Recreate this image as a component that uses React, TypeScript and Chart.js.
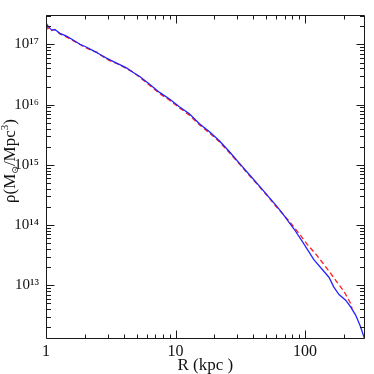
import React, { useEffect, useRef } from "react";
import { Chart, registerables } from "chart.js";

Chart.register(...registerables);

// Blue (solid) profile: radius in kpc, density in Msun/Mpc^3
const rBlue = [
  1.0, 1.04, 1.106, 1.173, 1.28, 1.44, 1.62, 1.83, 2.06, 2.31, 2.6, 2.93, 3.29, 3.71, 4.18, 4.69, 5.29,
  6.31, 7.53, 8.99, 10.7, 12.8, 15.3, 18.3, 21.8, 26.0, 31.1, 37.1, 44.3, 52.8, 59.5, 66.5, 82.3, 96.6,
  117, 153, 167, 183, 206, 225, 246, 268, 288,
];
const rhoBlue = [
  2.27e17, 2.0e17, 1.73e17, 1.77e17, 1.53e17, 1.38e17, 1.19e17, 1.01e17, 9.0e16, 7.9e16, 6.9e16, 5.95e16,
  5.24e16, 4.62e16, 4.08e16, 3.46e16, 2.94e16, 2.18e16, 1.6e16, 1.24e16, 9.27e15, 7.05e15, 4.84e15, 3.54e15,
  2.52e15, 1.67e15, 1.07e15, 6.92e14, 4.47e14, 2.88e14, 2.15e14, 1.6e14, 8.6e13, 5.1e13, 2.66e13, 1.36e13,
  9.3e12, 7.0e12, 5.65e12, 4.37e12, 3.2e12, 2.07e12, 1.3e12,
];

// Red (dashed) profile
const rRed = [
  1.0, 1.03, 1.1, 1.17, 1.28, 1.44, 1.62, 1.83, 1.94, 2.06, 2.31, 2.52, 2.6, 2.93, 3.29, 3.71, 4.18, 4.69,
  5.29, 6.31, 7.53, 8.99, 10.7, 12.8, 15.3, 18.3, 21.8, 26.0, 31.1, 37.1, 44.3, 52.8, 59.5, 75.3, 89.9, 104,
  124, 149, 177, 200, 225, 231,
];
const rhoRed = [
  1.7e17, 1.9e17, 1.7e17, 1.78e17, 1.5e17, 1.33e17, 1.16e17, 1.0e17, 9.3e16, 8.7e16, 7.8e16, 7.3e16, 6.8e16,
  5.75e16, 5.1e16, 4.6e16, 3.95e16, 3.5e16, 2.85e16, 2.1e16, 1.53e16, 1.19e16, 8.9e15, 6.7e15, 4.65e15,
  3.38e15, 2.42e15, 1.6e15, 1.04e15, 6.7e14, 4.38e14, 2.85e14, 2.05e14, 1.17e14, 7.25e13, 4.79e13, 3.1e13,
  1.86e13, 1.12e13, 7.9e12, 5.0e12, 4.1e12,
];

const xTicks = [1, 10, 100];
const yTicks = [1e13, 1e14, 1e15, 1e16, 1e17];
const xMin = 1;
const xMax = 288;
const yMin = 1.28e12;
const yMax = 3.15e17;
const xTitle = "R (kpc )";

const SUP: Record<string, string> = {
  "0": "\u2070", "1": "\u00b9", "2": "\u00b2", "3": "\u00b3", "4": "\u2074",
  "5": "\u2075", "6": "\u2076", "7": "\u2077", "8": "\u2078", "9": "\u2079", "-": "\u207b",
};
const powLabel = (v: number) => {
  const e = Math.round(Math.log10(v));
  return "10" + String(e).split("").map((c) => SUP[c] || c).join("");
};

const minorValues = (lo: number, hi: number) => {
  const out: number[] = [];
  for (let e = Math.floor(Math.log10(lo)); e <= Math.ceil(Math.log10(hi)); e++) {
    for (let m = 2; m <= 9; m++) {
      const v = m * Math.pow(10, e);
      if (v > lo && v < hi) out.push(v);
    }
  }
  return out;
};

const FONT = "'Liberation Serif', 'DejaVu Serif', serif";

const framePlugin = {
  id: "frameTicks",
  afterDraw(chart: any) {
    const { ctx, chartArea: a, scales } = chart;
    const xs = scales.x;
    const ys = scales.y;
    const L = Math.round(a.left) + 0.5;
    const R = Math.round(a.right) - 0.5;
    const T = Math.round(a.top) + 0.5;
    const B = Math.round(a.bottom) - 0.5;
    ctx.save();
    ctx.strokeStyle = "#1a1a1a";
    ctx.lineWidth = 1;
    ctx.beginPath();
    ctx.rect(L, T, R - L, B - T);
    const xt = (v: number, len: number) => {
      const p = Math.round(xs.getPixelForValue(v)) + 0.5;
      ctx.moveTo(p, B);
      ctx.lineTo(p, B - len);
      ctx.moveTo(p, T);
      ctx.lineTo(p, T + len);
    };
    const yt = (v: number, len: number) => {
      const p = Math.round(ys.getPixelForValue(v)) + 0.5;
      ctx.moveTo(L, p);
      ctx.lineTo(L + len, p);
      ctx.moveTo(R, p);
      ctx.lineTo(R - len, p);
    };
    xTicks.forEach((v) => xt(v, 8));
    minorValues(xMin, xMax).forEach((v) => xt(v, 4));
    yTicks.forEach((v) => yt(v, 8));
    minorValues(yMin, yMax).forEach((v) => yt(v, 4.5));
    ctx.stroke();

    // y-axis title: rho(M_sun / Mpc^3)
    const big = "17px " + FONT;
    const small = "11px " + FONT;
    const parts = [
      { t: "\u03c1(M", f: big, dy: 0 },
      { t: "\u2299", f: "9px 'DejaVu Sans', sans-serif", dy: 3 },
      { t: "/Mpc", f: big, dy: 0 },
      { t: "3", f: small, dy: -7 },
      { t: ")", f: big, dy: 0 },
    ];
    let total = 0;
    parts.forEach((p) => {
      ctx.font = p.f;
      total += ctx.measureText(p.t).width;
    });
    ctx.translate(14.5, 161);
    ctx.rotate(-Math.PI / 2);
    ctx.fillStyle = "#111";
    ctx.textBaseline = "alphabetic";
    ctx.textAlign = "left";
    let x = -total / 2;
    parts.forEach((p) => {
      ctx.font = p.f;
      ctx.fillText(p.t, x, p.dy);
      x += ctx.measureText(p.t).width;
    });
    ctx.restore();
  },
};

export default function App() {
  const ref = useRef<HTMLCanvasElement | null>(null);
  useEffect(() => {
    if (!ref.current) return;
    const chart = new Chart(ref.current, {
      type: "line",
      data: {
        datasets: [
          {
            label: "blue",
            data: rBlue.map((r, i) => ({ x: r, y: rhoBlue[i] })),
            borderColor: "rgb(35,35,255)",
            borderWidth: 1.3,
            pointRadius: 0,
            fill: false,
            tension: 0,
          },
          {
            label: "red",
            data: rRed.map((r, i) => ({ x: r, y: rhoRed[i] })),
            borderColor: "rgb(255,30,30)",
            borderWidth: 1.3,
            borderDash: [5, 3],
            pointRadius: 0,
            fill: false,
            tension: 0,
          },
        ],
      },
      options: {
        animation: false,
        responsive: false,
        events: [],
        layout: { padding: { top: 9, right: 9.5, left: 0, bottom: 0 } },
        plugins: { legend: { display: false }, tooltip: { enabled: false } },
        scales: {
          x: {
            type: "logarithmic",
            min: xMin,
            max: xMax,
            bounds: "data",
            grid: { display: false, drawTicks: false },
            border: { display: false },
            afterBuildTicks: (s: any) => {
              s.ticks = xTicks.map((v) => ({ value: v }));
            },
            afterFit: (s: any) => {
              s.height = 35;
            },
            ticks: {
              autoSkip: false,
              maxRotation: 0,
              padding: 5,
              color: "#111",
              font: { family: FONT, size: 16, lineHeight: 1 },
              callback: (v: any) => String(v),
            },
            title: {
              display: true,
              text: xTitle,
              color: "#111",
              padding: { top: 0, bottom: 0 },
              font: { family: FONT, size: 17, lineHeight: 1 },
            },
          },
          y: {
            type: "logarithmic",
            min: yMin,
            max: yMax,
            bounds: "data",
            grid: { display: false, drawTicks: false },
            border: { display: false },
            afterBuildTicks: (s: any) => {
              s.ticks = yTicks.map((v) => ({ value: v }));
            },
            afterFit: (s: any) => {
              s.width = 46;
            },
            ticks: {
              autoSkip: false,
              padding: 7,
              color: "#111",
              font: { family: FONT, size: 15, lineHeight: 1 },
              callback: (v: any) => powLabel(Number(v)),
            },
          },
        },
      },
      plugins: [framePlugin],
    } as any);
    return () => chart.destroy();
  }, []);
  return (
    <div style={{ position: "absolute", left: 0, top: 0, width: 374, height: 374, background: "#fff" }}>
      <canvas ref={ref} width={374} height={374} />
    </div>
  );
}
